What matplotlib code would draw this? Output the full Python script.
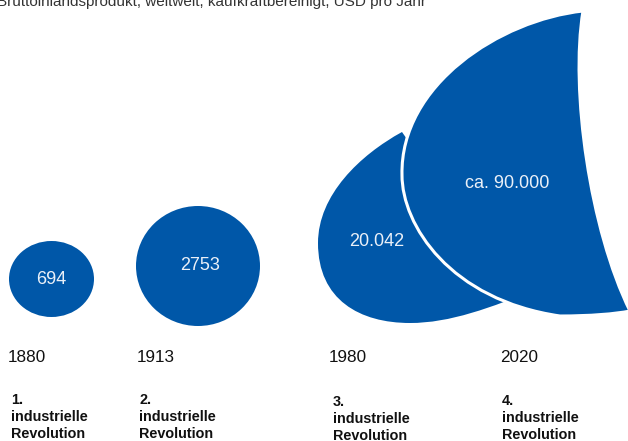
import matplotlib
matplotlib.use("Agg")
import matplotlib.pyplot as plt
from matplotlib.patches import Ellipse, PathPatch
from matplotlib.path import Path

plt.rcParams['font.family'] = ['Liberation Sans', 'DejaVu Sans']

# data
title = "Bruttoinlandsprodukt, weltweit, kaufkraftbereinigt, USD pro Jahr"
years = ["1880", "1913", "1980", "2020"]
gdp_labels = ["694", "2753", "20.042", "ca. 90.000"]
revolutions = ["1.", "2.", "3.", "4."]

blue = '#0057a8'

# layout (pixel coordinates, y pointing down)
year_x = [8, 137, 329, 500]
rev_x = [11, 139, 333, 502]
rev_y = [404, 404, 406, 405]
value_pos = [(51, 280), (200, 266), (377, 242), (507, 183)]

fig = plt.figure(figsize=(6.28, 4.41), dpi=100)
ax = fig.add_axes([0, 0, 1, 1])
ax.set_xlim(0, 628)
ax.set_ylim(441, 0)
ax.axis('off')

# 1880 and 1913: plain circles
ax.add_patch(Ellipse((51.5, 279), 85, 76, facecolor=blue, edgecolor='none'))
ax.add_patch(Ellipse((198, 266), 124, 120, facecolor=blue, edgecolor='none'))

# 1980: teardrop (right side hidden behind the big shape)
C = Path.CURVE4
drop_verts = [(402, 132),
              (360, 155), (318, 195), (318, 243),
              (318, 300), (360, 323), (410, 323),
              (450, 323), (490, 308), (540, 288),
              (470, 230), (418, 155), (402, 132)]
drop_codes = [Path.MOVETO, C, C, C, C, C, C, C, C, C,
              Path.LINETO, Path.LINETO, Path.CLOSEPOLY]
ax.add_patch(PathPatch(Path(drop_verts, drop_codes), facecolor=blue, edgecolor='none'))

# 2020: large crescent-like shape
big_verts = [(583, 11),
             (500, 20), (400, 85), (402, 175),
             (402, 225), (450, 300), (560, 316),
             (590, 316), (615, 314), (630, 311),
             (590, 230), (570, 90), (583, 11),
             (583, 11)]
big_codes = [Path.MOVETO, C, C, C, C, C, C, C, C, C, C, C, C, Path.CLOSEPOLY]
ax.add_patch(PathPatch(Path(big_verts, big_codes), facecolor=blue,
                       edgecolor='white', linewidth=2.2, joinstyle='miter'))

# value labels inside shapes
for (x, y), lab in zip(value_pos, gdp_labels):
    ax.text(x, y, lab, color='#eaf0f8', fontsize=13, ha='center', va='center')

# year labels
for x, yr in zip(year_x, years):
    ax.text(x, 358, yr, color='#111111', fontsize=12.3, ha='left', va='center')

# revolution labels
for x, y, r in zip(rev_x, rev_y, revolutions):
    for i, line in enumerate([r, "industrielle", "Revolution"]):
        ax.text(x, y + i * 17, line, color='#111111', fontsize=10.4,
                fontweight='bold', ha='left', va='baseline')

# title, partly cut off at the top edge
ax.text(-3, 6, title, color='#333333', fontsize=11, ha='left', va='baseline')

fig.savefig("out.png", dpi=100)
